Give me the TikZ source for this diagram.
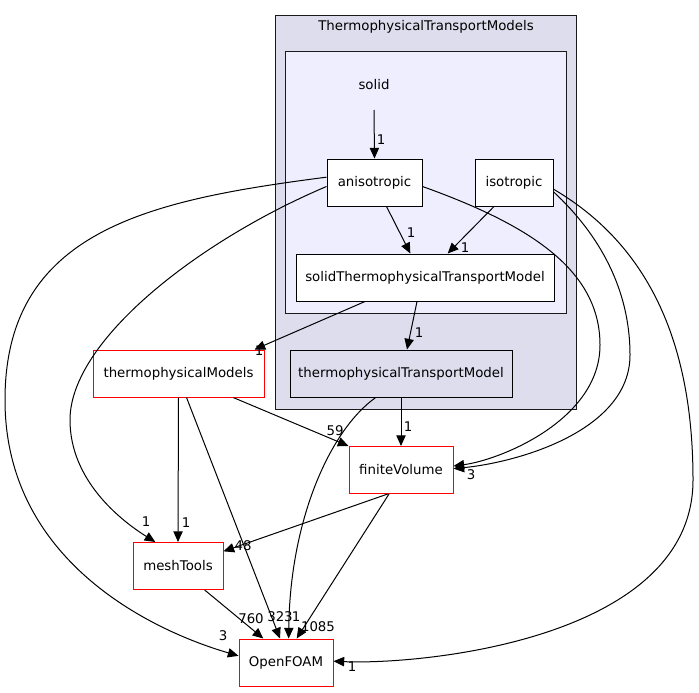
\documentclass[tikz,border=0pt]{standalone}
\usepackage{fontspec}
\setmainfont{DejaVu Sans}
\usepackage{xcolor}
\usetikzlibrary{arrows.meta}
\definecolor{outerdir}{HTML}{DDDDEE}
\definecolor{innerdir}{HTML}{EEEEFF}
\definecolor{frame}{HTML}{1A1A1A}

\begin{document}
\begin{tikzpicture}[
  x=0.75pt,y=-0.75pt,
  every node/.style={font=\fontsize{10}{12}\selectfont,inner sep=0pt},
  dirbox/.style={draw=black,line width=0.75pt,fill=white,minimum height=35.25pt},
  extbox/.style={dirbox,draw=red},
  lbl/.style={font=\fontsize{10}{12}\selectfont},
  dep/.style={-{Triangle[length=8pt,width=7pt]},line width=0.75pt,draw=black}
]
\useasboundingbox (0,0) rectangle (699,692);
% directory clusters
\draw[frame,fill=outerdir,line width=0.75pt] (275,16) rectangle (576,409);
\node (outertitle) at (426,27) {ThermophysicalTransportModels};
\draw[frame,fill=innerdir,line width=0.75pt] (285,52) rectangle (566,313);
\node (solid) at (374,85) {solid};
\coordinate (solidout) at (374,110);

% nodes
\node[dirbox,minimum width=71.25pt] (aniso) at (374.5,182.5) {anisotropic};
\node[dirbox,minimum width=58.5pt] (iso) at (514,182.5) {isotropic};
\node[dirbox,minimum width=193.5pt] (solidttm) at (425,277.5) {solidThermophysicalTransportModel};
\node[dirbox,fill=outerdir,minimum width=166.5pt] (ttm) at (401,373.5) {thermophysicalTransportModel};
\node[extbox,minimum width=128.25pt] (thermo) at (178.5,373.5) {thermophysicalModels};
\node[extbox,minimum width=78pt] (fv) at (401,470) {finiteVolume};
\node[extbox,minimum width=67.5pt] (mesh) at (178,566) {meshTools};
\node[extbox,minimum width=70.5pt] (foam) at (286,662.5) {OpenFOAM};

% dependencies
\draw[dep] (solidout) -- (aniso.north);
\node[lbl] (l1) at (381,140) {1};
\draw[dep] ([xshift=9pt]aniso.south) -- ([xshift=-11pt]solidttm.north);
\node[lbl] (l2) at (411,233) {1};
\draw[dep] ([xshift=-15pt]iso.south) -- ([xshift=17pt]solidttm.north);
\node[lbl] (l3) at (465,248) {1};
\draw[dep] ([xshift=-45pt]solidttm.south) -- ([xshift=57pt]thermo.north);
\node[lbl] (l4) at (259,351) {1};
\draw[dep] ([xshift=-6pt]solidttm.south) -- ([xshift=4.5pt]ttm.north);
\node[lbl] (l5) at (419,333) {1};
\draw[dep] (ttm.south) -- (fv.north);
\node[lbl] (l6) at (408,427) {1};
\draw[dep] ([xshift=-19pt]ttm.south) .. controls (330,430) and (290,520) .. ([xshift=2pt]foam.north);
\node[lbl] (l7) at (296,617) {1};
\draw[dep] ([xshift=41pt]thermo.south) -- (fv.north west);
\node[lbl] (l8) at (335,431) {59};
\draw[dep] (thermo.south) -- (mesh.north);
\node[lbl] (l9) at (186,523) {1};
\draw[dep] ([xshift=6pt]thermo.south) -- ([xshift=-4.5pt]foam.north);
\node[lbl] (l10) at (280,617) {323};
\draw[dep] ([xshift=-10pt]fv.south) -- ([yshift=-7pt]mesh.north east);
\node[lbl] (l11) at (243,546) {48};
\draw[dep] ([xshift=-9pt]fv.south) -- ([xshift=8pt]foam.north);
\node[lbl] (l12) at (318,627) {1085};
\draw[dep] ([xshift=20pt]mesh.south) -- ([xshift=-17pt]foam.north);
\node[lbl] (l13) at (251,619) {760};
\draw[dep] ([yshift=4pt]aniso.west) .. controls (150,200) and (5,230) .. (5,400)
  .. controls (5,560) and (150,630) .. ([yshift=5pt]foam.west);
\node[lbl] (l14) at (223,636) {3};
\draw[dep] ([yshift=-3pt]aniso.west) .. controls (200,240) and (70,340) .. (70,420)
  .. controls (70,480) and (120,520) .. ([xshift=-17pt]mesh.north);
\node[lbl] (l15) at (146,522) {1};
\draw[dep] ([yshift=-3pt]aniso.east) .. controls (530,225) and (600,270) .. (600,345)
  .. controls (600,420) and (500,460) .. ([yshift=3pt]fv.east);
\node[lbl] (l16) at (471,475) {3};
\draw[dep] ([yshift=-7pt]iso.east) .. controls (600,235) and (630,290) .. (630,355)
  .. controls (630,430) and (520,462) .. ([yshift=1pt]fv.east);
\draw[dep] ([yshift=-5pt]iso.east) .. controls (640,240) and (693,330) .. (693,480)
  .. controls (693,640) and (420,665) .. ([yshift=1pt]foam.east);
\node[lbl] (l17) at (352,667) {1};
\end{tikzpicture}
\end{document}
